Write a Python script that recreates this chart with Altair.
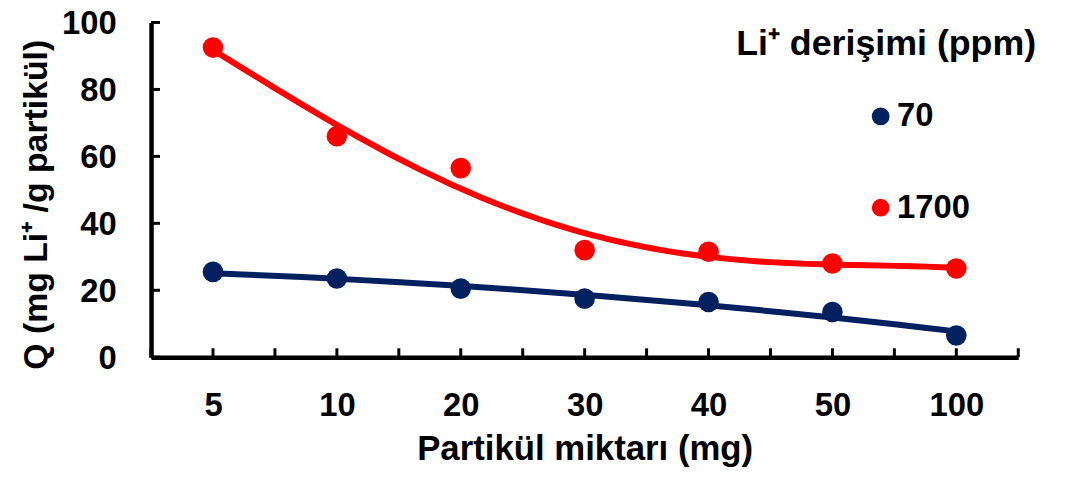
import altair as alt
import pandas as pd

# ---- data ----
x_labels = ["5", "10", "20", "30", "40", "50", "100"]
x_index = [0, 1, 2, 3, 4, 5, 6]
q_70 = [25.5, 23.5, 20.5, 17.5, 16.5, 13.5, 6.5]
q_1700 = [92.5, 66.0, 56.5, 32.0, 31.5, 28.0, 26.5]
series = ["70", "1700"]
colors = ["#002060", "#FF0000"]
y_ticks = [0, 20, 40, 60, 80, 100]
x_tick_pos = [-0.5, 0, 0.5, 1, 1.5, 2, 2.5, 3, 3.5, 4, 4.5, 5, 5.5, 6, 6.5]
legend_title = "Li\u207a derişimi (ppm)"
x_title = "Partikül miktarı (mg)"
y_title = "Q (mg Li\u207a /g partikül)"

FONT = "Liberation Sans"
FS = 33
W, H = 873, 337

rows = []
for i, v in zip(x_index, q_70):
    rows.append({"idx": i, "q": v, "seri": series[0]})
for i, v in zip(x_index, q_1700):
    rows.append({"idx": i, "q": v, "seri": series[1]})
df = pd.DataFrame(rows)

label_arr = "[" + ",".join("'" + s + "'" for s in x_labels) + "]"
x_scale = alt.Scale(domain=[-0.5, 6.5], nice=False, zero=False)
y_scale = alt.Scale(domain=[0, 100], nice=False)
color_scale = alt.Scale(domain=series, range=colors)

x_axis = alt.Axis(values=x_index, labelExpr=label_arr + "[datum.value]", title=x_title,
                  labelPadding=33, titlePadding=9, titleFontSize=35)
y_axis = alt.Axis(values=y_ticks, title=y_title, labelPadding=35, titlePadding=8,
                  titleFontSize=34, titleY=183,
                  labelBaseline="alphabetic", labelOffset=11)

base = alt.Chart(df)

points = base.mark_point(filled=True, size=430, opacity=1, shape="circle").encode(
    x=alt.X("idx:Q", scale=x_scale, axis=x_axis),
    y=alt.Y("q:Q", scale=y_scale, axis=y_axis),
    color=alt.Color("seri:N", scale=color_scale,
                    legend=alt.Legend(title=None, orient="none", legendX=718, legendY=78,
                                      labelFontSize=FS, labelFont=FONT, labelFontWeight="bold",
                                      labelColor="black", symbolSize=320, symbolType="circle",
                                      rowPadding=58, labelOffset=0, symbolStrokeWidth=0)),
)

fit_70 = base.transform_filter(alt.datum.seri == series[0]).transform_regression(
    "idx", "q", method="poly", order=2
).mark_line(strokeWidth=6, color=colors[0]).encode(
    x=alt.X("idx:Q", scale=x_scale, axis=x_axis),
    y=alt.Y("q:Q", scale=y_scale, axis=y_axis),
)

fit_1700 = base.transform_filter(alt.datum.seri == series[1]).transform_regression(
    "idx", "q", method="poly", order=4
).mark_line(strokeWidth=6, color=colors[1]).encode(
    x=alt.X("idx:Q", scale=x_scale, axis=x_axis),
    y=alt.Y("q:Q", scale=y_scale, axis=y_axis),
)

ytick_rules = alt.Chart(pd.DataFrame({"q": y_ticks})).mark_rule(color="black", strokeWidth=3).encode(
    y=alt.Y("q:Q", scale=y_scale, axis=y_axis),
    x=alt.value(0),
    x2=alt.value(9),
)

xtick_rules = alt.Chart(pd.DataFrame({"idx": x_tick_pos})).mark_rule(color="black", strokeWidth=3).encode(
    x=alt.X("idx:Q", scale=x_scale, axis=x_axis),
    y=alt.value(H),
    y2=alt.value(H - 9),
)

legend_text = alt.Chart(pd.DataFrame({"t": [legend_title]})).mark_text(
    font=FONT, fontSize=36, fontWeight="bold", align="left", baseline="middle", color="black"
).encode(text="t:N", x=alt.value(589), y=alt.value(22))

chart = alt.layer(points, fit_70, fit_1700, ytick_rules, xtick_rules, legend_text).properties(
    width=W, height=H,
    autosize=alt.AutoSizeParams(type="none"),
    padding={"left": 144, "top": 13, "right": 40, "bottom": 120},
).configure_view(stroke=None).configure_axis(
    grid=False, ticks=False, domainColor="black", domainWidth=4.5,
    labelFont=FONT, labelFontSize=FS, labelFontWeight="bold", labelColor="black",
    titleFont=FONT, titleFontSize=FS, titleFontWeight="bold", titleColor="black",
)

chart.save("out.html", embed_options={"renderer": "svg", "actions": False})
